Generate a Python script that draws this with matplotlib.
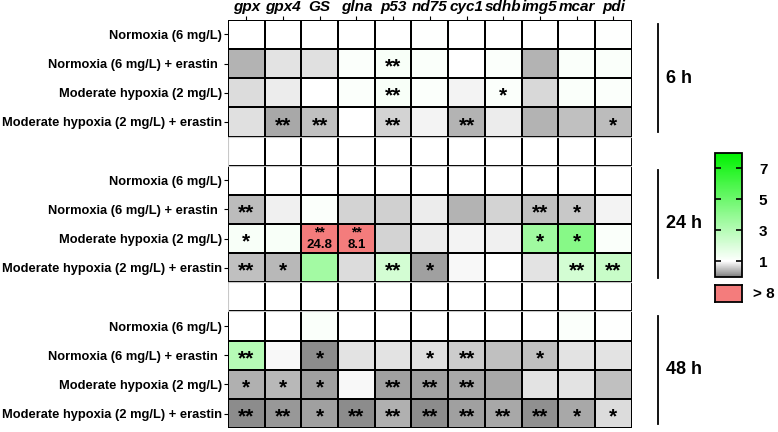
import numpy as np
import matplotlib
matplotlib.use("Agg")
import matplotlib.pyplot as plt
from matplotlib.colors import LinearSegmentedColormap, Normalize
from matplotlib.cm import ScalarMappable
from matplotlib.patches import Rectangle

plt.rcParams['font.family'] = ['Liberation Sans', 'DejaVu Sans']
plt.rcParams['font.weight'] = 'bold'

genes = ["gpx", "gpx4", "GS", "glna", "p53", "nd75", "cyc1", "sdhb", "img5", "mcar", "pdi"]
conditions = ["Normoxia (6 mg/L)", "Normoxia (6 mg/L) + erastin ",
              "Moderate hypoxia (2 mg/L)", "Moderate hypoxia (2 mg/L) + erastin"]
times = ["6 h", "24 h", "48 h"]

# fold change (estimated from colours)
values_6h = [
    [1.0, 1.0, 1.0, 1.0, 1.0, 1.05, 1.0, 1.0, 1.0, 1.0, 1.05],
    [0.42, 0.80, 0.76, 1.1, 1.2, 1.15, 1.0, 1.1, 0.42, 1.15, 1.15],
    [0.72, 0.85, 1.0, 1.1, 1.2, 1.1, 0.92, 1.1, 0.70, 1.15, 1.1],
    [0.78, 0.32, 0.50, 1.0, 0.66, 0.92, 0.42, 0.86, 0.42, 0.50, 0.47],
]
values_24h = [
    [1.0, 1.0, 1.0, 1.0, 1.0, 1.0, 1.0, 1.0, 1.0, 1.0, 1.0],
    [0.48, 0.88, 1.1, 0.68, 0.63, 0.85, 0.42, 0.68, 0.50, 0.57, 0.92],
    [1.2, 1.2, 24.8, 8.1, 0.68, 0.87, 0.92, 0.90, 3.6, 4.3, 1.15],
    [0.50, 0.46, 3.5, 0.72, 2.2, 0.25, 0.95, 1.0, 0.80, 2.2, 2.5],
]
values_48h = [
    [1.0, 1.0, 1.15, 1.0, 1.0, 1.0, 1.0, 1.0, 1.0, 1.1, 1.05],
    [3.0, 0.95, 0.12, 0.80, 0.80, 0.75, 0.60, 0.50, 0.53, 0.80, 0.80],
    [0.40, 0.44, 0.25, 0.95, 0.25, 0.25, 0.32, 0.32, 0.80, 0.80, 0.50],
    [0.12, 0.20, 0.25, 0.12, 0.38, 0.12, 0.25, 0.32, 0.15, 0.32, 0.72],
]

stars_6h = [
    ["", "", "", "", "", "", "", "", "", "", ""],
    ["", "", "", "", "**", "", "", "", "", "", ""],
    ["", "", "", "", "**", "", "", "*", "", "", ""],
    ["", "**", "**", "", "**", "", "**", "", "", "", "*"],
]
stars_24h = [
    ["", "", "", "", "", "", "", "", "", "", ""],
    ["**", "", "", "", "", "", "", "", "**", "*", ""],
    ["*", "", "**", "**", "", "", "", "", "*", "*", ""],
    ["**", "*", "", "", "**", "*", "", "", "", "**", "**"],
]
stars_48h = [
    ["", "", "", "", "", "", "", "", "", "", ""],
    ["**", "", "*", "", "", "*", "**", "", "*", "", ""],
    ["*", "*", "*", "", "**", "**", "**", "", "", "", ""],
    ["**", "**", "*", "**", "**", "**", "**", "**", "**", "*", "*"],
]

blocks = [values_6h, values_24h, values_48h]
star_blocks = [stars_6h, stars_24h, stars_48h]

# build grid with blank separator rows
nrow = 4 * 3 + 2
ncol = len(genes)
grid = np.full((nrow, ncol), np.nan)
stars = [[""] * ncol for _ in range(nrow)]
row_labels = [""] * nrow
block_rows = []
for b in range(3):
    start = b * 5
    block_rows.append(start)
    for r in range(4):
        grid[start + r] = blocks[b][r]
        stars[start + r] = star_blocks[b][r]
        row_labels[start + r] = conditions[r]

cmap = LinearSegmentedColormap.from_list(
    "fc", [(0.0, (0.50, 0.50, 0.50)), (1 / 8, (1, 1, 1)), (1.0, (0.0, 0.95, 0.0))])
cmap.set_bad("white")
cmap.set_over("#f47c7c")
norm = Normalize(vmin=0, vmax=8)

fig = plt.figure(figsize=(7.78, 4.32), dpi=100)
ax = fig.add_axes([0.293, 0.009, 0.519, 0.945])

ax.pcolormesh(np.arange(ncol + 1), np.arange(nrow + 1), np.ma.masked_invalid(grid),
              cmap=cmap, norm=norm, edgecolors="black", linewidth=1.3)
ax.set_xlim(0, ncol)
ax.set_ylim(nrow, 0)

# separator rows
for b in range(2):
    g = b * 5 + 4
    ax.add_patch(Rectangle((0, g), ncol, 1, fill=False, edgecolor="#c8c8c8", lw=0.8))

for i in range(nrow):
    for j in range(ncol):
        s = stars[i][j]
        v = grid[i, j]
        if not np.isnan(v) and v > 8:
            ax.text(j + 0.5, i + 0.42, s, ha="center", va="baseline", fontsize=10, fontweight="bold")
            ax.text(j + 0.5, i + 0.72, f"{v:.1f}", ha="center", va="center", fontsize=9.5, fontweight="bold")
        elif s:
            ax.text(j + 0.5, i + 0.62, s, ha="center", va="center", fontsize=15, fontweight="bold")

ax.xaxis.tick_top()
ax.set_xticks(np.arange(ncol) + 0.5)
ax.set_xticklabels(genes, fontsize=11, fontstyle="italic", fontweight="bold")
ytick_pos = [i + 0.5 for i in range(nrow) if row_labels[i]]
ax.set_yticks(ytick_pos)
ax.set_yticklabels([l for l in row_labels if l], fontsize=9.3, fontweight="bold")
ax.tick_params(axis="both", length=3, width=0.8, pad=1.5)
for sp in ax.spines.values():
    sp.set_visible(False)

# time brackets
for b in range(3):
    y0 = block_rows[b]
    ax.plot([1.064, 1.064], [y0 + 0.15, y0 + 3.85], color="black", lw=1.3,
            transform=ax.get_yaxis_transform(), clip_on=False)
    ax.text(1.085, y0 + 2, times[b], transform=ax.get_yaxis_transform(),
            ha="left", va="center", fontsize=13, fontweight="bold")

# colour bar
cax = fig.add_axes([0.919, 0.359, 0.035, 0.287])
cb = fig.colorbar(ScalarMappable(norm=norm, cmap=cmap), cax=cax)
cb.set_ticks([1, 3, 5, 7])
cb.ax.tick_params(direction="in", length=4, width=1.2, left=True, right=True,
                  labelsize=11, pad=12)
for t in cb.ax.get_yticklabels():
    t.set_fontweight("bold")
cb.outline.set_linewidth(1.3)

rax = fig.add_axes([0.919, 0.301, 0.035, 0.039])
rax.set_facecolor("#f47c7c")
rax.set_xticks([])
rax.set_yticks([])
for sp in rax.spines.values():
    sp.set_linewidth(1.3)
rax.text(1.4, 0.5, "> 8", transform=rax.transAxes, ha="left", va="center",
         fontsize=11, fontweight="bold")

fig.savefig("out.png", dpi=100)
